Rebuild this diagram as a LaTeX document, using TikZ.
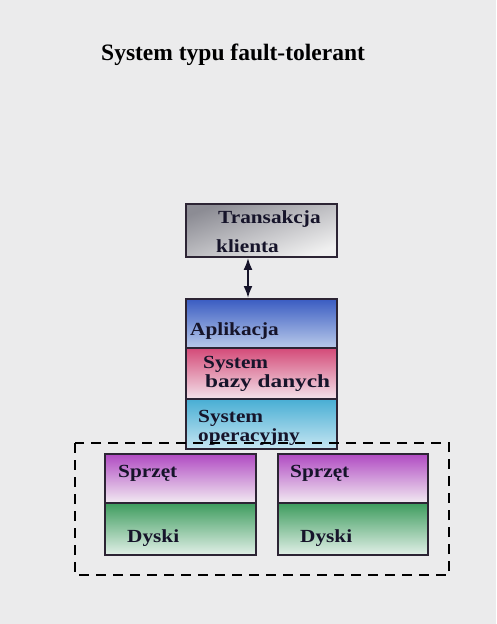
\documentclass[tikz,border=0pt]{standalone}
\usepackage{fontspec}
\setmainfont{Liberation Serif}
\newfontfamily\layerfont{Liberation Serif}[FakeStretch=1.15]
\newfontfamily\widelayerfont{Liberation Serif}[FakeStretch=1.26]
\usetikzlibrary{arrows.meta}

\definecolor{paper}{HTML}{EBEBEC}
\definecolor{ink}{HTML}{16142A}
\definecolor{edge}{HTML}{2C2434}
\definecolor{grayA}{HTML}{8C8C94}\definecolor{grayB}{HTML}{F0F0F0}
\definecolor{blueA}{HTML}{3A5CC2}\definecolor{blueB}{HTML}{B9CAEA}
\definecolor{pinkA}{HTML}{D44A78}\definecolor{pinkB}{HTML}{F3E2EA}
\definecolor{cyanA}{HTML}{48AED4}\definecolor{cyanB}{HTML}{C6E6F2}
\definecolor{purpA}{HTML}{B04AC2}\definecolor{purpB}{HTML}{F2EAF2}
\definecolor{grenA}{HTML}{3E9C5E}\definecolor{grenB}{HTML}{E2F0E8}

\tikzset{
  layer/.style={draw=edge, line width=1.9pt, rectangle, inner sep=0pt, anchor=north west},
  shadegray/.style={top color=grayA, bottom color=grayB, shading angle=20},
  shadeblue/.style={top color=blueA, bottom color=blueB},
  shadepink/.style={top color=pinkA, bottom color=pinkB},
  shadecyan/.style={top color=cyanA, bottom color=cyanB},
  shadepurp/.style={top color=purpA, bottom color=purpB},
  shadegren/.style={top color=grenA, bottom color=grenB},
  lbl/.style={anchor=base west, inner sep=0pt, text=ink, font=\layerfont\fontsize{18.5}{20}\selectfont\bfseries},
  widelbl/.style={lbl, font=\widelayerfont\fontsize{18.5}{20}\selectfont\bfseries},
  ttl/.style={anchor=base west, inner sep=0pt, text=black, font=\fontsize{23.5}{26}\selectfont\bfseries},
  group/.style={draw=black, line width=2.6pt, dash pattern=on 10pt off 7pt},
  link/.style={draw=ink, line width=2pt, {Latex[length=12pt,width=9pt]}-{Latex[length=12pt,width=9pt]}}
}

\begin{document}
\begin{tikzpicture}[x=1pt, y=-1pt]
  \useasboundingbox (0,0) rectangle (496,624);
  \fill[paper] (0,0) rectangle (496,624);

  % heading
  \node[ttl] (title) at (101,60) {System typu fault-tolerant};

  % client transaction
  \node[layer, shadegray, minimum width=151pt, minimum height=53pt] (trans) at (185,203) {};
  \node[lbl] (transA) at (218,223) {Transakcja};
  \node[lbl] (transB) at (216,252) {klienta};

  % software stack
  \node[layer, shadeblue, minimum width=151pt, minimum height=49pt] (app) at (185,298) {};
  \node[lbl] (appT) at (190,335) {Aplikacja};
  \node[layer, shadepink, minimum width=151pt, minimum height=51pt] (db) at (185,347) {};
  \node[lbl] (dbA) at (203,368) {System};
  \node[widelbl] (dbB) at (205,387) {bazy danych};
  \node[layer, shadecyan, minimum width=151pt, minimum height=50pt] (os) at (185,398) {};
  \node[lbl] (osA) at (198,422) {System};
  \node[lbl] (osB) at (198,441) {operacyjny};

  % link between transaction and application
  \coordinate (ax) at (248,0);
  \draw[link] (trans.south -| ax) -- (app.north -| ax);

  % redundant hardware
  \node[layer, shadepurp, minimum width=151pt, minimum height=49pt] (hwL) at (104,453) {};
  \node[lbl] (hwLT) at (118,477) {Sprzęt};
  \node[layer, shadegren, minimum width=151pt, minimum height=52pt] (dkL) at (104,502) {};
  \node[lbl] (dkLT) at (127,542) {Dyski};
  \node[layer, shadepurp, minimum width=150pt, minimum height=49pt] (hwR) at (277,453) {};
  \node[lbl] (hwRT) at (290,477) {Sprzęt};
  \node[layer, shadegren, minimum width=150pt, minimum height=52pt] (dkR) at (277,502) {};
  \node[lbl] (dkRT) at (300,542) {Dyski};

  % fault-tolerant group
  \draw[group] (75,443) rectangle (449,575);
\end{tikzpicture}
\end{document}
